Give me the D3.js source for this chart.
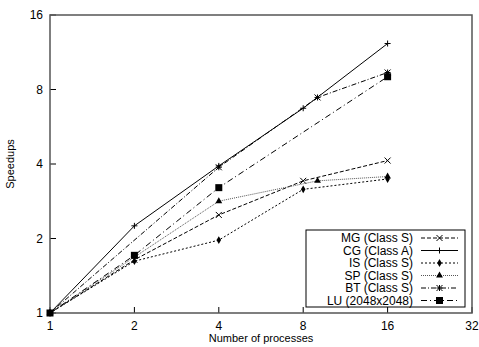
<!DOCTYPE html>
<html>
<head>
<meta charset="utf-8">
<script src="https://cdn.jsdelivr.net/npm/d3@7"></script>
<style>
  html, body { margin: 0; padding: 0; background: #fff; }
  svg text { font-family: "Liberation Sans", Arial, sans-serif; fill: #000; }
</style>
</head>
<body>
<svg id="chart"></svg>
<script>
const xTicks = [1, 2, 4, 8, 16, 32];
const yTicks = [1, 2, 4, 8, 16];

const mgProcs = [1, 2, 4, 8, 16];
const mgSpeedup = [1, 1.64, 2.49, 3.42, 4.13];

const cgProcs = [1, 2, 4, 8, 16];
const cgSpeedup = [1, 2.25, 3.93, 6.72, 12.27];

const isProcs = [1, 2, 4, 8, 16];
const isSpeedup = [1, 1.62, 1.97, 3.16, 3.48];

const spProcs = [1, 4, 9, 16];
const spSpeedup = [1, 2.83, 3.42, 3.56];

const btProcs = [1, 4, 9, 16];
const btSpeedup = [1, 3.88, 7.43, 9.37];

const luProcs = [1, 2, 4, 16];
const luSpeedup = [1, 1.71, 3.21, 9.01];

const seriesNames = ['MG (Class S)', 'CG (Class A)', 'IS (Class S)', 'SP (Class S)', 'BT (Class S)', 'LU (2048x2048)'];

const W = 479, H = 347;
const margin = { top: 15, right: 7, bottom: 34, left: 50 };
const width = W - margin.left - margin.right;
const height = H - margin.top - margin.bottom;

const svg = d3.select('#chart').attr('width', W).attr('height', H);
const g = svg.append('g').attr('transform', `translate(${margin.left},${margin.top})`);

const x = d3.scaleLog().base(2).domain([1, 32]).range([0, width]);
const y = d3.scaleLog().base(2).domain([1, 16]).range([height, 0]);

const frameColor = '#555';

// ticks (drawn inward, gnuplot style)
yTicks.forEach(t => {
  g.append('line').attr('x1', 0).attr('x2', 6).attr('y1', y(t)).attr('y2', y(t))
   .attr('stroke', '#000').attr('stroke-width', 1);
  g.append('text').attr('x', -7).attr('y', y(t)).attr('dy', '0.35em')
   .attr('text-anchor', 'end').style('font-size', '12px').text(t);
});
xTicks.forEach(t => {
  g.append('line').attr('x1', x(t)).attr('x2', x(t)).attr('y1', height).attr('y2', height - 6)
   .attr('stroke', '#000').attr('stroke-width', 1);
  g.append('text').attr('x', x(t)).attr('y', height + 17)
   .attr('text-anchor', 'middle').style('font-size', '12px').text(t);
});

// frame
g.append('rect').attr('x', 0).attr('y', 0).attr('width', width).attr('height', height)
 .attr('fill', 'none').attr('stroke', frameColor).attr('stroke-width', 1.5);

// axis titles
g.append('text')
 .attr('transform', `translate(${-36},${height / 2}) rotate(-90)`)
 .attr('text-anchor', 'middle').style('font-size', '11px').text('Speedups');
g.append('text')
 .attr('x', width / 2).attr('y', height + 29)
 .attr('text-anchor', 'middle').style('font-size', '11px').text('Number of processes');

// marker drawing helpers
function drawMarker(sel, kind, cx, cy) {
  const s = 3;
  if (kind === 'x') {
    sel.append('path').attr('d', `M${cx - s},${cy - s}L${cx + s},${cy + s}M${cx - s},${cy + s}L${cx + s},${cy - s}`)
       .attr('stroke', '#000').attr('stroke-width', 1).attr('fill', 'none');
  } else if (kind === 'plus') {
    sel.append('path').attr('d', `M${cx - s},${cy}L${cx + s},${cy}M${cx},${cy - s}L${cx},${cy + s}`)
       .attr('stroke', '#000').attr('stroke-width', 1).attr('fill', 'none');
  } else if (kind === 'star') {
    sel.append('path').attr('d', `M${cx - s},${cy - s}L${cx + s},${cy + s}M${cx - s},${cy + s}L${cx + s},${cy - s}M${cx - s},${cy}L${cx + s},${cy}M${cx},${cy - s}L${cx},${cy + s}`)
       .attr('stroke', '#000').attr('stroke-width', 1).attr('fill', 'none');
  } else if (kind === 'diamond') {
    sel.append('path').attr('d', d3.symbol().type(d3.symbolDiamond).size(18)())
       .attr('transform', `translate(${cx},${cy})`).attr('fill', '#000');
  } else if (kind === 'triangle') {
    sel.append('path').attr('d', d3.symbol().type(d3.symbolTriangle).size(20)())
       .attr('transform', `translate(${cx},${cy})`).attr('fill', '#000');
  } else if (kind === 'square') {
    sel.append('rect').attr('x', cx - 3.5).attr('y', cy - 3.5).attr('width', 7).attr('height', 7)
       .attr('fill', '#000');
  }
}

const series = [
  { name: seriesNames[0], px: mgProcs, py: mgSpeedup, dash: '4,2', marker: 'x', color: '#000' },
  { name: seriesNames[1], px: cgProcs, py: cgSpeedup, dash: null, marker: 'plus', color: '#000' },
  { name: seriesNames[2], px: isProcs, py: isSpeedup, dash: '2,2', marker: 'diamond', color: '#000' },
  { name: seriesNames[3], px: spProcs, py: spSpeedup, dash: '1,1', marker: 'triangle', color: '#555' },
  { name: seriesNames[4], px: btProcs, py: btSpeedup, dash: '5,2,1,2', marker: 'star', color: '#000' },
  { name: seriesNames[5], px: luProcs, py: luSpeedup, dash: '6,3,1,3', marker: 'square', color: '#000' }
];

const line = d3.line().x(d => x(d[0])).y(d => y(d[1]));

series.forEach(s => {
  const pts = s.px.map((p, i) => [p, s.py[i]]);
  g.append('path').datum(pts).attr('d', line)
   .attr('fill', 'none').attr('stroke', s.color).attr('stroke-width', 1)
   .attr('stroke-dasharray', s.dash);
  pts.forEach(p => drawMarker(g, s.marker, x(p[0]), y(p[1])));
});

// legend
const lg = svg.append('g').attr('transform', 'translate(306,230)');
lg.append('rect').attr('x', 0).attr('y', 0).attr('width', 159).attr('height', 77)
  .attr('fill', '#fff').attr('stroke', '#000').attr('stroke-width', 1);
series.forEach((s, i) => {
  const ry = 8 + i * 12.5;
  lg.append('text').attr('x', 107).attr('y', ry).attr('dy', '0.35em')
    .attr('text-anchor', 'end').style('font-size', '12px').text(s.name);
  lg.append('line').attr('x1', 115).attr('x2', 152).attr('y1', ry).attr('y2', ry)
    .attr('stroke', s.color).attr('stroke-width', 1).attr('stroke-dasharray', s.dash);
  drawMarker(lg, s.marker, 133.5, ry);
});
</script>
</body>
</html>
